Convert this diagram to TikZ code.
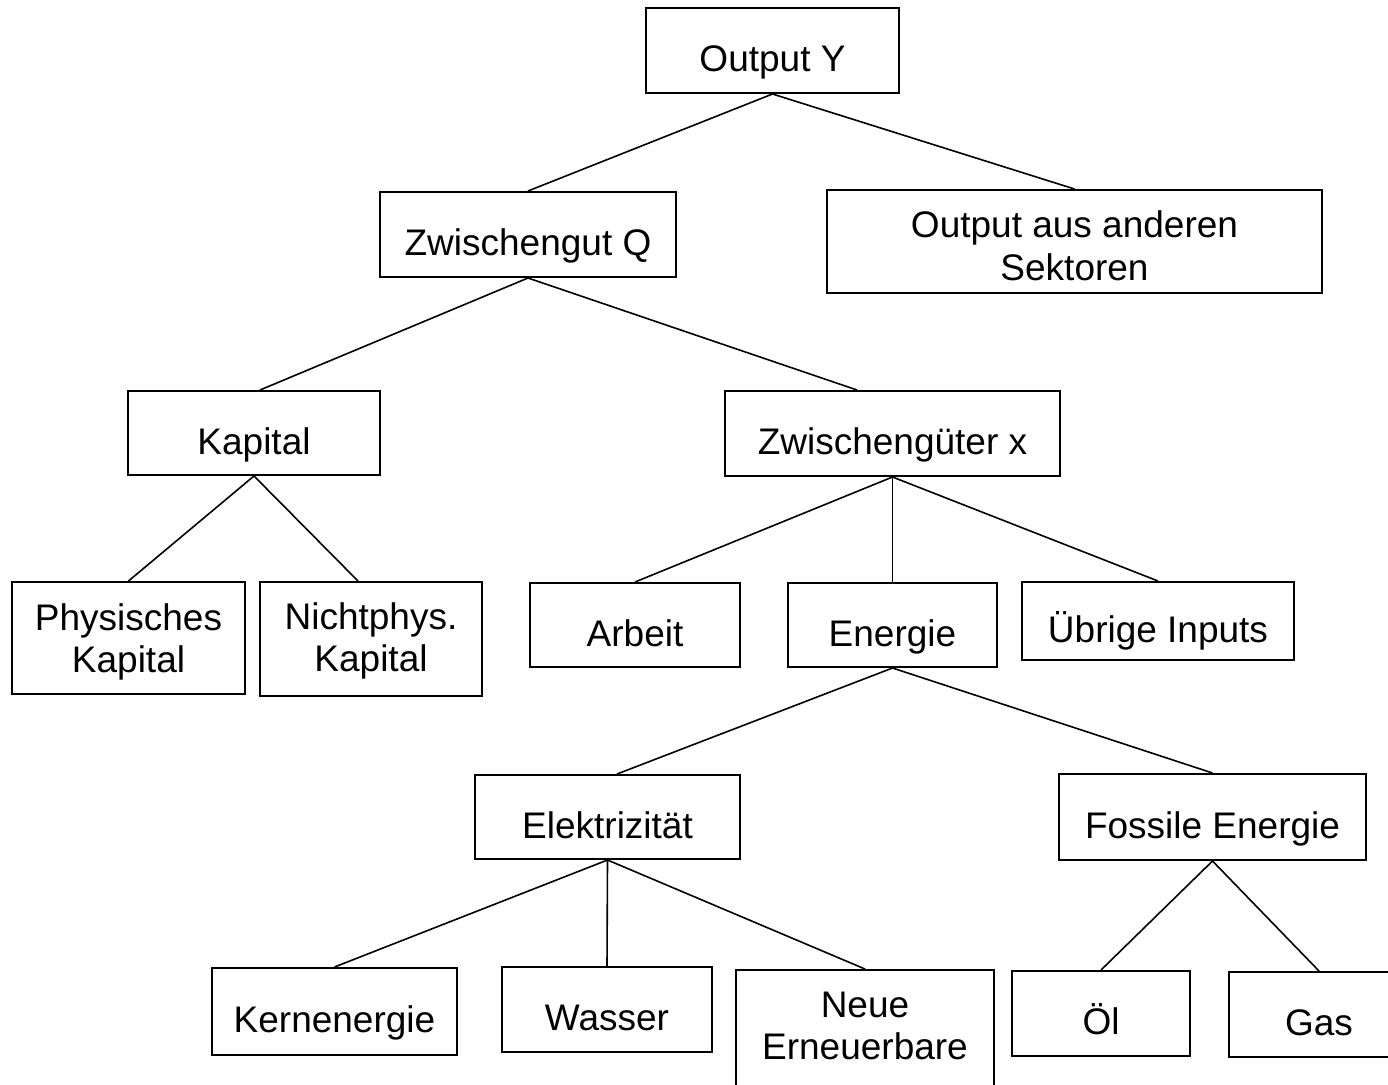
\documentclass[tikz,border=0pt]{standalone}
\usepackage{fontspec}
\setmainfont{Liberation Sans}
\usepackage{tikz}

\tikzset{
  box/.style={draw=black,line width=2pt,inner sep=0pt,align=center,
    font=\fontsize{37}{42.5}\selectfont},
  onebox/.style={box,text height=42.5pt,text depth=0pt},
  branch/.style={draw=black,line width=1.6pt}
}

\begin{document}
\begin{tikzpicture}[x=1pt,y=-1pt]
\useasboundingbox (0,0) rectangle (1388,1084);

\node[onebox,minimum width=253pt,minimum height=85pt] (outY) at (772.5,50.5) {Output Y};
\node[onebox,minimum width=296pt,minimum height=85pt] (zwQ) at (528,234.5) {Zwischengut Q};
\node[box,minimum width=495pt,minimum height=103pt] (outAnd) at (1074.5,241.5) {\rule{0pt}{35pt}Output aus anderen\\Sektoren};

\node[onebox,minimum width=252pt,minimum height=84pt] (kap) at (254,433) {Kapital};
\node[onebox,minimum width=335pt,minimum height=85pt] (zgx) at (892.5,433.5) {Zwischengüter x};

\node[box,minimum width=233pt,minimum height=112pt] (phys) at (128.5,638) {\rule{0pt}{35pt}Physisches\\Kapital};
\node[box,minimum width=222pt,minimum height=114pt] (nphys) at (371,639) {\rule{0pt}{31pt}Nichtphys.\\Kapital};
\node[onebox,minimum width=210pt,minimum height=84pt] (arb) at (635,625) {Arbeit};
\node[onebox,minimum width=209pt,minimum height=84pt] (ener) at (892.5,625) {Energie};
\node[onebox,minimum width=272pt,minimum height=78pt] (uebr) at (1158,621) {Übrige Inputs};

\node[onebox,minimum width=265pt,minimum height=84pt] (elek) at (607.5,817) {Elektrizität};
\node[onebox,minimum width=307pt,minimum height=86pt] (foss) at (1212.5,817) {Fossile Energie};

\node[onebox,minimum width=245pt,minimum height=87pt] (kern) at (334.5,1011.5) {Kernenergie};
\node[onebox,minimum width=210pt,minimum height=85pt] (wass) at (607,1009.5) {Wasser};
\node[box,minimum width=258pt,minimum height=120pt] (neue) at (865,1030) {Neue\\Erneuerbare\rule[-8pt]{0pt}{8pt}};
\node[onebox,minimum width=178pt,minimum height=85pt] (oel) at (1101,1013.5) {Öl};
\node[onebox,minimum width=180pt,minimum height=85pt] (gas) at (1319,1014.5) {Gas};

\draw[branch] (zwQ.north) -- (outY.south) -- (outAnd.north);
\draw[branch] ([xshift=6pt]kap.north) -- (zwQ.south) -- ([xshift=-35.5pt]zgx.north);
\draw[branch] (phys.north) -- (kap.south) -- ([xshift=-13pt]nphys.north);
\draw[branch] (arb.north) -- (zgx.south) -- (uebr.north);
\draw[branch] (zgx.south) -- (ener.north);
\draw[branch] ([xshift=9.5pt]elek.north) -- (ener.south) -- (foss.north);
\draw[branch] (kern.north) -- (elek.south) -- (neue.north);
\draw[branch] (elek.south) -- (wass.north);
\draw[branch] (oel.north) -- (foss.south) -- (gas.north);
\end{tikzpicture}
\end{document}
